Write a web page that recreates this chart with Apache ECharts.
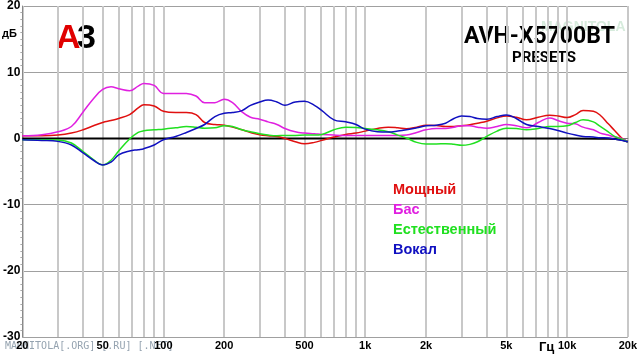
<!DOCTYPE html>
<html>
<head>
<meta charset="utf-8">
<script src="https://cdn.jsdelivr.net/npm/echarts@6/dist/echarts.min.js"></script>
<style>
  html, body { margin: 0; padding: 0; background: #fff; }
  #chart { width: 640px; height: 354px; }
</style>
</head>
<body>
<div id="chart"></div>
<script>
// frequency points, Hz
let freqs = [20, 25, 30, 35, 40, 45, 50, 55, 60, 68, 75, 80, 90, 100, 115, 130, 145, 160, 180, 200,
    220, 245, 270, 300, 330, 365, 400, 450, 500, 560, 610, 700, 800, 900, 1000, 1150, 1300, 1450, 1600, 1800,
    2000, 2250, 2500, 2750, 3000, 3300, 3600, 4000, 4500, 5000, 5600, 6300, 7200, 8200, 9000, 10000, 11000, 12000, 13500, 14600,
    16000, 17200, 18600, 20000];

// dB values
let moshchny = [0.4, 0.4, 0.5, 0.8, 1.3, 1.9, 2.4, 2.7, 3.0, 3.6, 4.6, 5.1, 4.9, 4.1, 3.9, 3.9, 3.6, 2.4, 2.1, 2.0,
    1.7, 1.3, 0.9, 0.55, 0.4, 0.3, 0.0, -0.5, -0.8, -0.6, -0.3, 0.2, 0.6, 0.8, 1.1, 1.5, 1.7, 1.6, 1.45, 1.7,
    2.0, 1.95, 1.8, 1.8, 1.9, 2.05, 2.3, 2.6, 3.1, 3.4, 3.2, 2.8, 3.2, 3.5, 3.4, 3.15, 3.6, 4.2, 4.1, 3.5,
    2.2, 1.2, 0.1, -0.5];
let bas = [0.4, 0.55, 1.0, 1.8, 4.0, 6.0, 7.4, 7.8, 7.5, 7.2, 7.9, 8.3, 8.0, 6.8, 6.8, 6.8, 6.4, 5.4, 5.4, 5.9,
    5.4, 4.0, 3.2, 2.9, 2.5, 2.1, 1.5, 1.0, 0.8, 0.7, 0.6, 0.5, 0.45, 0.45, 0.45, 0.45, 0.45, 0.45, 0.5, 0.9,
    1.3, 1.5, 1.5, 1.7, 1.9, 1.9, 1.7, 1.55, 1.8, 2.1, 1.9, 1.6, 2.4, 3.1, 2.7, 2.3, 2.2, 1.7, 1.3, 0.8,
    0.5, 0.2, 0.0, -0.5];
let estestvenny = [-0.2, -0.2, -0.25, -0.7, -2.0, -3.2, -4.0, -3.3, -1.9, -0.1, 0.9, 1.15, 1.3, 1.4, 1.6, 1.8, 1.7, 1.55, 1.6, 1.9,
    1.8, 1.3, 1.0, 0.7, 0.5, 0.4, 0.45, 0.45, 0.5, 0.5, 0.6, 1.3, 1.7, 1.65, 1.5, 1.3, 1.0, 0.5, 0.05, -0.6,
    -0.85, -0.85, -0.8, -0.9, -1.05, -0.9, -0.5, 0.3, 1.1, 1.55, 1.5, 1.3, 1.5, 1.8, 1.8, 1.9, 2.4, 2.8, 2.5, 1.8,
    1.0, 0.3, -0.1, -0.5];
let vokal = [-0.2, -0.3, -0.45, -1.0, -2.2, -3.3, -4.0, -3.6, -2.5, -1.9, -1.7, -1.55, -1.0, -0.2, 0.3, 0.9, 1.5, 2.1, 3.3, 3.8,
    3.9, 4.2, 5.0, 5.5, 5.8, 5.5, 5.0, 5.5, 5.6, 5.0, 4.2, 2.8, 2.5, 2.1, 1.4, 1.0, 0.95, 1.1, 1.3, 1.6,
    1.9, 2.0, 2.3, 3.0, 3.4, 3.3, 3.0, 2.9, 3.3, 3.55, 3.0, 2.1, 1.8, 1.5, 1.2, 0.8, 0.5, 0.3, 0.2, 0.1,
    0.05, -0.1, -0.3, -0.5];

// reference (flat) curve
let refFreqs = [20, 1000, 10000, 16000, 18600, 20000];
let refValues = [0, 0, 0, -0.05, -0.2, -0.5];

let seriesNames = ['Мощный', 'Бас', 'Естественный', 'Вокал'];
let seriesColors = ['#e01010', '#e020e0', '#20e020', '#1010c0'];

// x grid lines and labels, Hz
let gridFreqs = [20, 30, 40, 50, 60, 70, 80, 90, 100, 200, 300, 400, 500, 600, 700, 800, 900, 1000,
    2000, 3000, 4000, 5000, 6000, 7000, 8000, 9000, 10000, 20000];
let labelFreqs = [20, 50, 100, 200, 500, 1000, 2000, 5000, 10000, 20000];
let labelTexts = ['20', '50', '100', '200', '500', '1k', '2k', '5k', '10k', '20k'];

function toPoints(fs, vs) {
    return fs.map(function (f, i) { return [Math.log10(f), vs[i]]; });
}

let chart = echarts.init(document.getElementById('chart'));

let allValues = [moshchny, bas, estestvenny, vokal];
let series = allValues.map(function (vals, i) {
    return {
        name: seriesNames[i],
        type: 'line',
        smooth: 0.4,
        showSymbol: false,
        lineStyle: { color: seriesColors[i], width: 1.5 },
        itemStyle: { color: seriesColors[i] },
        data: toPoints(freqs, vals),
        z: 3 + i
    };
});
series.unshift({
    name: 'ref',
    type: 'line',
    smooth: 0.4,
    showSymbol: false,
    lineStyle: { color: '#000', width: 2 },
    data: toPoints(refFreqs, refValues),
    z: 2
});

let labelMap = {};
labelFreqs.forEach(function (f, i) { labelMap[Math.log10(f).toFixed(4)] = labelTexts[i]; });

chart.setOption({
    animation: false,
    backgroundColor: '#fff',
    grid: { left: 22, right: 10, top: 4, bottom: 17 },
    legend: {
        orient: 'vertical',
        left: 379,
        top: 177,
        icon: 'none',
        itemWidth: 4,
        itemGap: 5,
        textStyle: { fontFamily: 'Liberation Sans', fontWeight: 'bold', fontSize: 14.5 },
        data: seriesNames.map(function (n, i) {
            return { name: n, textStyle: { color: seriesColors[i] } };
        })
    },
    xAxis: {
        type: 'value',
        min: Math.log10(20),
        max: Math.log10(20000),
        axisLine: { lineStyle: { color: '#777', width: 1 } },
        axisTick: { show: false, customValues: gridFreqs.map(function (f) { return Math.log10(f); }) },
        axisLabel: {
            customValues: labelFreqs.map(function (f) { return Math.log10(f); }),
            formatter: function (v) { return labelMap[v.toFixed(4)] || ''; },
            color: '#000',
            fontFamily: 'Liberation Sans',
            fontWeight: 'bold',
            fontSize: 11,
            margin: 3
        },
        splitLine: { show: true, lineStyle: { color: '#c8c8c8', width: 2 } }
    },
    yAxis: {
        type: 'value',
        min: -30,
        max: 20,
        interval: 10,
        axisLine: { show: true, lineStyle: { color: '#888', width: 1 } },
        axisTick: { show: false },
        minorTick: { show: true, splitNumber: 10, length: 2, lineStyle: { color: '#aaa' } },
        axisLabel: {
            color: '#000',
            fontFamily: 'Liberation Sans',
            fontWeight: 'bold',
            fontSize: 12,
            margin: 2
        },
        splitLine: { show: true, lineStyle: { color: '#a0a0a0', width: 1 } }
    },
    graphic: [
        { type: 'text', left: 2, top: 28, style: { text: 'дБ', font: 'bold 11px Liberation Sans', fill: '#000' } },
        { type: 'text', left: 56, top: 22, style: { text: 'А', font: 'bold 34px Liberation Sans', fill: '#e00000' } },
        { type: 'text', left: 77, top: 22, style: { text: '3', font: 'bold 34px Liberation Sans', fill: '#000', shadowColor: 'rgba(0,0,0,0.4)', shadowBlur: 3, shadowOffsetX: 2, shadowOffsetY: 2 } },
        { type: 'text', left: 541, top: 20, style: { text: 'MAGNITOLA', font: 'bold 14px Liberation Sans', fill: 'rgba(120,190,140,0.3)' } },
        { type: 'text', left: 464, top: 26, style: { text: 'AVH-X5700BT', font: 'bold 23px Roboto', fill: '#000' } },
        { type: 'text', left: 512, top: 51, style: { text: 'PRESETS', font: 'bold 15px Roboto', fill: '#000' } },
        { type: 'text', left: 539, top: 341, style: { text: 'Гц', font: 'bold 13px Liberation Sans', fill: '#000' } },
        { type: 'text', left: 5, top: 341, style: { text: 'MAGNITOLA[.ORG] [.RU] [.NET]', font: '10px DejaVu Sans Mono', fill: '#95a3b0' } }
    ],
    series: series
});

window.addEventListener('resize', function () { chart.resize(); });
</script>
</body>
</html>
